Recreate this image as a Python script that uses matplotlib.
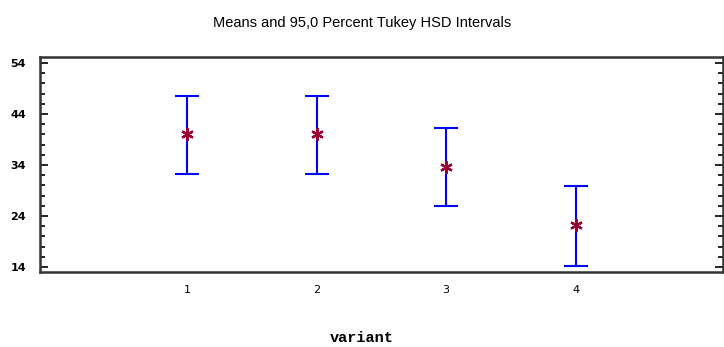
import numpy as np
import matplotlib.pyplot as plt
from matplotlib.ticker import MultipleLocator

variants = [1, 2, 3, 4]
means = [40.1, 40.1, 33.7, 22.2]
lower = [32.3, 32.3, 25.9, 14.1]
upper = [47.6, 47.6, 41.2, 29.8]
yticks = [14, 24, 34, 44, 54]

fig = plt.figure(figsize=(7.24, 3.47), dpi=100)
ax = fig.add_axes([0.0552, 0.216, 0.9434, 0.62])

m = np.array(means)
err = [m - np.array(lower), np.array(upper) - m]
ax.errorbar(variants, means, yerr=err, fmt='none', ecolor='#0000ff',
            elinewidth=1.5, capsize=8.5, capthick=1.5)
ax.plot(variants, means, linestyle='none', marker=(6, 2, 0), markersize=9,
        markeredgewidth=1.6, color='#990033')

ax.set_xlim(-0.14, 5.14)
ax.set_ylim(13.0, 55.2)
ax.set_xticks(variants)
ax.set_yticks(yticks)
ax.yaxis.set_minor_locator(MultipleLocator(2))
ax.tick_params(axis='x', length=0, labelsize=8, pad=9)
ax.tick_params(axis='y', which='major', direction='in', length=6, width=1.2,
               right=True, labelsize=8, pad=10)
ax.tick_params(axis='y', which='minor', direction='in', length=3.5, width=1.2,
               right=True)
for lab in ax.get_yticklabels():
    lab.set_fontweight('bold')
for s in ax.spines.values():
    s.set_linewidth(1.8)
    s.set_color('#333333')

fig.text(0.5, 0.935, 'Means and 95,0 Percent Tukey HSD Intervals',
         ha='center', va='center', fontsize=10.5, family='Liberation Sans')
fig.text(0.5, 0.025, 'variant', ha='center', va='center', fontsize=11,
         family='Liberation Mono', fontweight='bold')

fig.savefig('out.png', dpi=100)
